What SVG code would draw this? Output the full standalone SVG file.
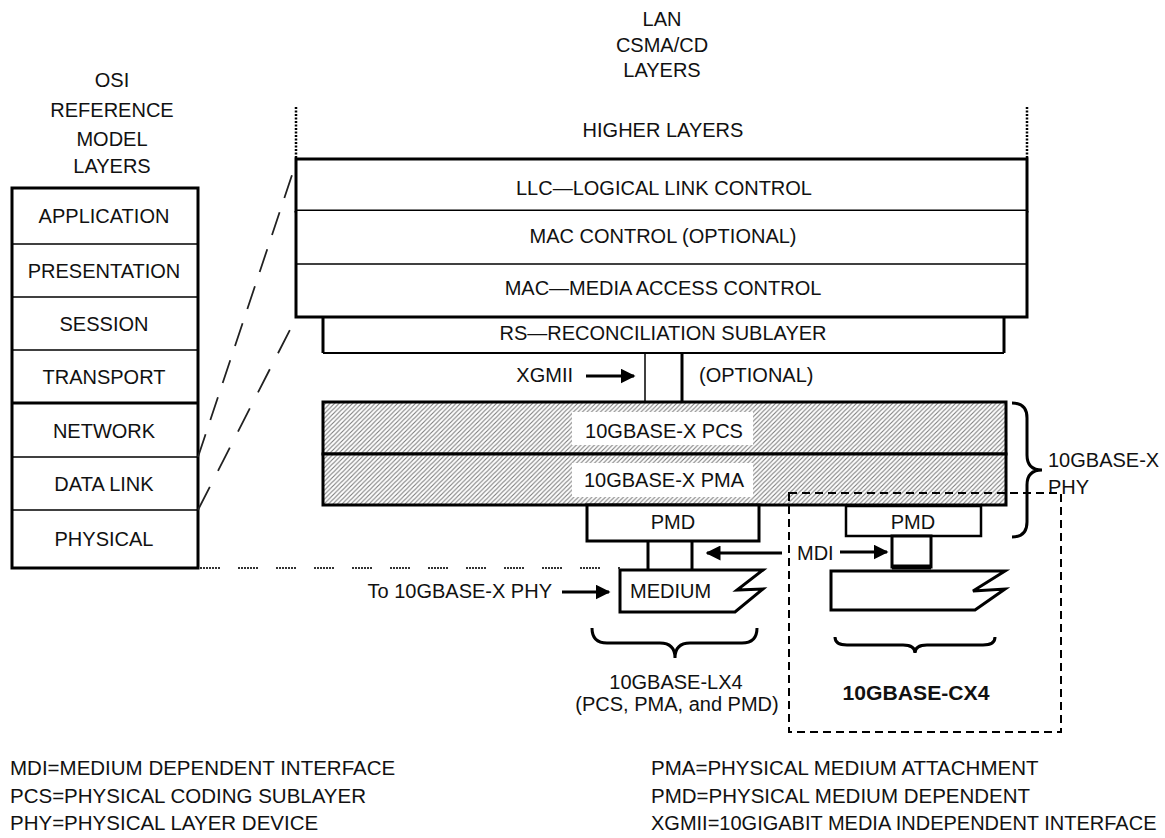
<svg xmlns="http://www.w3.org/2000/svg" width="1165" height="838" viewBox="0 0 1165 838">
<style>
text{font-family:"Liberation Sans",Arial,sans-serif;font-size:20px;fill:#111}
.c{text-anchor:middle}
.b{font-weight:bold}
.box{fill:#fff;stroke:#000;stroke-width:3}
.thin{fill:none;stroke:#000;stroke-width:1.5}
.thick{fill:none;stroke:#000;stroke-width:3}
.hat{fill:url(#hatch);stroke:#000;stroke-width:3}
.dash{fill:none;stroke:#222;stroke-width:1.8}
.arrow{fill:none;stroke:#000;stroke-width:3}
.lg{font-size:20.5px}
</style>
<defs>
<pattern id="hatch" patternUnits="userSpaceOnUse" width="4.5" height="4.5">
<rect width="4.5" height="4.5" fill="#fff"/>
<path d="M-1,1 L1,-1 M0,4.5 L4.5,0 M3.5,5.5 L5.5,3.5" stroke="#7a7a7a" stroke-width="1.1"/>
</pattern>
<marker id="ah" viewBox="0 0 10 10" refX="9" refY="5" markerWidth="5" markerHeight="5" orient="auto" markerUnits="strokeWidth">
<path d="M0,0 L10,5 L0,10 z" fill="#000"/>
</marker>
</defs>
<rect width="1165" height="838" fill="#fff"/>

<!-- OSI stack -->
<g id="osi">
<text class="c" x="112" y="87">OSI</text>
<text class="c" x="112" y="117">REFERENCE</text>
<text class="c" x="112" y="146">MODEL</text>
<text class="c" x="112" y="173">LAYERS</text>
<rect class="box" x="12" y="188" width="186" height="380"/>
<line class="thin" x1="12" y1="244" x2="198" y2="244"/>
<line class="thin" x1="12" y1="297" x2="198" y2="297"/>
<line class="thin" x1="12" y1="350" x2="198" y2="350"/>
<line class="thick" x1="12" y1="403" x2="198" y2="403"/>
<line class="thin" x1="12" y1="457" x2="198" y2="457"/>
<line class="thin" x1="12" y1="510" x2="198" y2="510"/>
<text class="c" x="104" y="223">APPLICATION</text>
<text class="c" x="104" y="278">PRESENTATION</text>
<text class="c" x="104" y="331">SESSION</text>
<text class="c" x="104" y="384">TRANSPORT</text>
<text class="c" x="104" y="438">NETWORK</text>
<text class="c" x="104" y="491">DATA LINK</text>
<text class="c" x="104" y="546">PHYSICAL</text>
</g>

<!-- LAN header -->
<g id="lan-title">
<text class="c" x="662" y="26">LAN</text>
<text class="c" x="662" y="52">CSMA/CD</text>
<text class="c" x="662" y="77">LAYERS</text>
<text class="c" x="663" y="137">HIGHER LAYERS</text>
<line x1="296" y1="107" x2="296" y2="159" stroke="#000" stroke-width="2.5" stroke-dasharray="2 1.5"/>
<line x1="1027" y1="107" x2="1027" y2="159" stroke="#000" stroke-width="2.5" stroke-dasharray="2 1.5"/>
</g>

<g id="llc">
<rect class="box" x="296" y="159" width="731" height="52"/>
<text class="c" x="664" y="195">LLC—LOGICAL LINK CONTROL</text>
</g>
<g id="mac-control">
<rect x="296" y="211" width="731" height="53" fill="#fff"/>
<line class="thick" x1="296" y1="211" x2="296" y2="264"/>
<line class="thick" x1="1027" y1="211" x2="1027" y2="264"/>
<line class="thin" x1="296" y1="264" x2="1027" y2="264"/>
<text class="c" x="663" y="243">MAC CONTROL (OPTIONAL)</text>
</g>
<g id="mac">
<path class="thick" d="M296,264 L296,317 L1027,317 L1027,264"/>
<text class="c" x="663" y="295">MAC—MEDIA ACCESS CONTROL</text>
</g>
<g id="rs">
<path class="thick" d="M323,317 L323,353"/>
<path fill="none" stroke="#000" stroke-width="2" d="M323,353 L1004,353"/>
<path class="thick" d="M1004,317 L1004,353"/>
<text class="c" x="663" y="340">RS—RECONCILIATION SUBLAYER</text>
</g>
<g id="xgmii">
<line class="thin" x1="645" y1="353" x2="645" y2="402"/>
<line class="thick" x1="682" y1="353" x2="682" y2="402"/>
<text x="573" y="382" text-anchor="end">XGMII</text>
<text x="699" y="382">(OPTIONAL)</text>
</g>
<g id="pcs">
<rect class="hat" x="323" y="402" width="683" height="52"/>
<rect x="572" y="412" width="181" height="33" fill="#fff"/>
<text class="c" x="664" y="438">10GBASE-X PCS</text>
</g>
<g id="pma">
<rect class="hat" x="323" y="454" width="683" height="51"/>
<rect x="572" y="463" width="181" height="34" fill="#fff"/>
<text class="c" x="664" y="487">10GBASE-X PMA</text>
</g>
<g id="phy-brace">
<path class="thick" d="M1012,403 Q1027,403 1027,418 L1027,455 Q1027,470 1042,470 Q1027,470 1027,485 L1027,522 Q1027,537 1012,537"/>
<text x="1048" y="467">10GBASE-X</text>
<text x="1048" y="494">PHY</text>
</g>

<!-- LX4 -->
<g id="pmd-lx4">
<rect class="box" x="587" y="505" width="172" height="36"/>
<text class="c" x="673" y="529">PMD</text>
<line class="thick" x1="648" y1="541" x2="648" y2="570"/>
<line class="thick" x1="692" y1="541" x2="692" y2="570"/>
</g>
<g id="medium-lx4">
<path class="box" d="M620,570 L763,570 L737,590 L763,589 L735,612 L620,612 Z"/>
<text x="630" y="598">MEDIUM</text>
</g>
<g id="lx4-label">
<path class="thick" d="M592,628 Q592,643 607,643 L660,643 Q675,643 675,658 Q675,643 690,643 L742,643 Q757,643 757,628"/>
<text class="c" x="676" y="689">10GBASE-LX4</text>
<text class="c" x="677" y="711">(PCS, PMA, and PMD)</text>
</g>
<text id="to-phy" x="552" y="598" text-anchor="end">To 10GBASE-X PHY</text>

<!-- CX4 -->
<g id="cx4-box">
<rect x="789" y="493" width="272" height="239" fill="none" stroke="#000" stroke-width="2" stroke-dasharray="8 5"/>
<text class="c b" x="916" y="700" textLength="147" lengthAdjust="spacingAndGlyphs">10GBASE-CX4</text>
</g>
<g id="pmd-cx4">
<rect fill="#fff" stroke="#000" stroke-width="2.5" x="846" y="506" width="135" height="30"/>
<text class="c" x="913" y="529">PMD</text>
</g>
<g id="mdi-cx4">
<rect class="box" x="892" y="536" width="39" height="31"/>
<line x1="892" y1="567" x2="931" y2="567" stroke="#000" stroke-width="5"/>
<text x="797" y="560">MDI</text>
</g>
<g id="medium-cx4">
<path class="box" d="M831,571 L1005,571 L973,591 L1005,589 L975,610 L831,610 Z"/>
</g>
<g id="cx4-brace">
<path class="thick" d="M835,637 Q835,645 847,645 L903,645 Q915,645 915,653 Q915,645 927,645 L983,645 Q995,645 995,637"/>
</g>

<!-- connectors -->
<g id="connectors">
<line class="dash" x1="198" y1="457" x2="296" y2="163" stroke-dasharray="24 15"/>
<line class="dash" x1="198" y1="510" x2="296" y2="318" stroke-dasharray="26 18"/>
<line x1="200" y1="568" x2="620" y2="568" stroke="#333" stroke-width="2" stroke-dasharray="2 1 2 1 2 1 2 1 2 1 2 1 2 18"/>
<line class="arrow" x1="586" y1="376" x2="634" y2="376" marker-end="url(#ah)"/>
<line class="arrow" x1="562" y1="592" x2="609" y2="592" marker-end="url(#ah)"/>
<line class="arrow" x1="782" y1="553" x2="707" y2="553" marker-end="url(#ah)"/>
<line class="arrow" x1="840" y1="552" x2="887" y2="552" marker-end="url(#ah)"/>
</g>

<!-- legend -->
<g id="legend">
<text class="lg" x="10" y="775">MDI=MEDIUM DEPENDENT INTERFACE</text>
<text class="lg" x="10" y="803">PCS=PHYSICAL CODING SUBLAYER</text>
<text class="lg" x="10" y="830">PHY=PHYSICAL LAYER DEVICE</text>
<text class="lg" x="651" y="775">PMA=PHYSICAL MEDIUM ATTACHMENT</text>
<text class="lg" x="651" y="803">PMD=PHYSICAL MEDIUM DEPENDENT</text>
<text x="651" y="830">XGMII=10GIGABIT MEDIA INDEPENDENT INTERFACE</text>
</g>
</svg>
